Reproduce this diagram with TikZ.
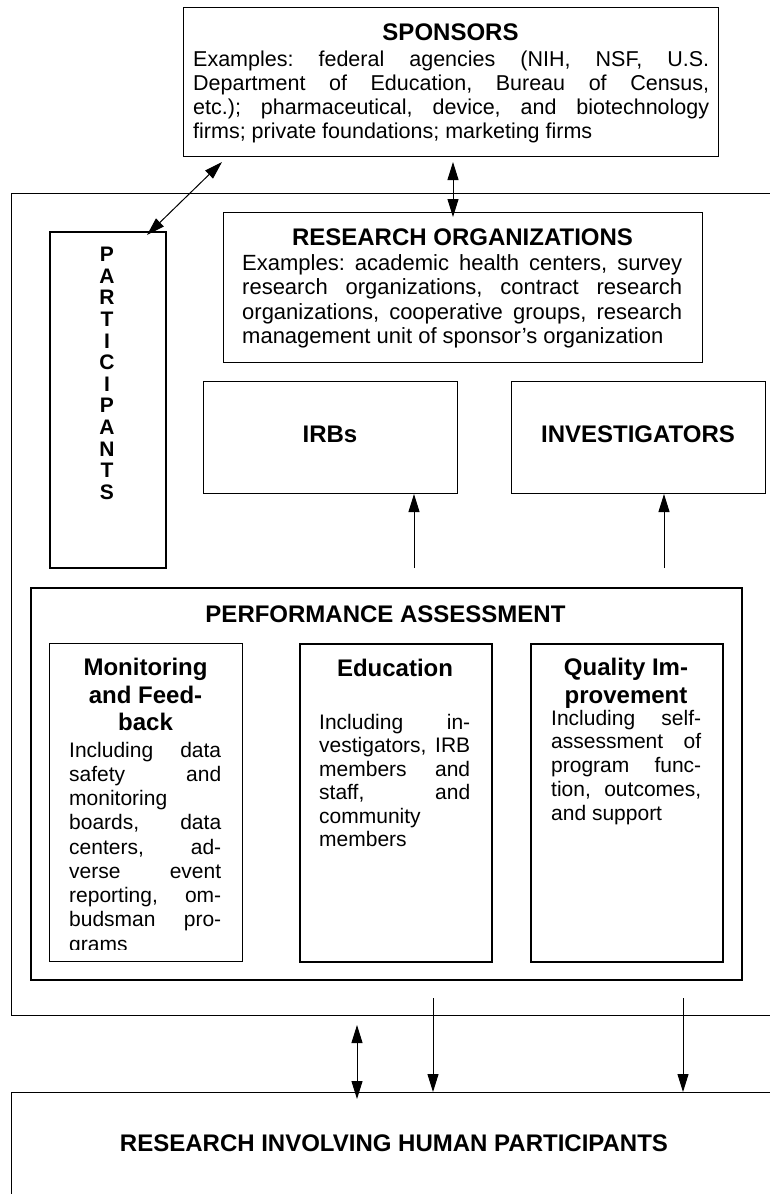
\documentclass[tikz,border=0pt]{standalone}
\usepackage{fontspec}
\setmainfont{Liberation Sans}
\usetikzlibrary{arrows.meta}
\frenchspacing
\newcommand\jtext[5]{\node[anchor=base west,inner sep=0] (#1) at (#2,#3) {\makebox[#4pt][s]{#5}};}
\newcommand\ltext[4]{\node[anchor=base west,inner sep=0] (#1) at (#2,#3) {#4};}
\newcommand\ctext[4]{\node[anchor=base,inner sep=0] (#1) at (#2,#3) {#4};}
\tikzset{
  box/.style={draw, line width=1pt, inner sep=0, anchor=north west},
  arr/.style={line width=1pt, -{Triangle[length=18pt,width=11pt]}},
  dbl/.style={line width=1pt, {Triangle[length=18pt,width=11pt]}-{Triangle[length=18pt,width=11pt]}},
  head/.style={font=\fontsize{24}{27.5}\selectfont\bfseries},
  bodyA/.style={font=\fontsize{21.5}{24}\selectfont},
  bodyB/.style={font=\fontsize{22}{24.5}\selectfont},
  bodyC/.style={font=\fontsize{21}{24}\selectfont},
}
\begin{document}
\begin{tikzpicture}[x=1pt,y=-1pt]
\clip (0,0) rectangle (770,1194);
\fill[white] (0,0) rectangle (770,1194);

% boxes
\node[box, minimum width=535pt, minimum height=149pt] (sponsors) at (183,7) {};
\node[box, minimum width=800pt, minimum height=822pt] (region) at (11,193) {};
\node[box, line width=1.8pt, minimum width=116pt, minimum height=336pt] (participants) at (49,231) {};
\node[box, minimum width=479pt, minimum height=150pt] (resorg) at (223,212) {};
\node[box, minimum width=254pt, minimum height=112pt] (irbs) at (203,381) {};
\node[box, minimum width=254pt, minimum height=112pt] (inv) at (511,381) {};
\node[box, line width=2pt, minimum width=711pt, minimum height=392pt] (perf) at (30,587) {};
\node[box, minimum width=193pt, minimum height=318pt] (monit) at (49,643) {};
\node[box, line width=1.6pt, minimum width=192pt, minimum height=318pt] (educ) at (299,643) {};
\node[box, line width=1.6pt, minimum width=192pt, minimum height=318pt] (qual) at (530,643) {};
\node[box, minimum width=800pt, minimum height=140pt] (human) at (11,1092) {};

% sponsors text
\begin{scope}[every node/.append style={bodyA}]
\node[head, anchor=base, inner sep=0] (sptitle) at (450.5,40.5) {SPONSORS};
\jtext{sp1}{193}{66}{516}{Examples: federal agencies (NIH, NSF, U.S.}
\jtext{sp2}{193}{90}{516}{Department of Education, Bureau of Census,}
\jtext{sp3}{193}{114}{516}{etc.); pharmaceutical, device, and biotechnology}
\ltext{sp4}{193}{138}{firms; private foundations; marketing firms}
\end{scope}

% research organizations text
\begin{scope}[every node/.append style={bodyB}]
\node[head, anchor=base, inner sep=0] (rotitle) at (462.5,245.5) {RESEARCH ORGANIZATIONS};
\jtext{ro1}{242}{270}{440}{Examples: academic health centers, survey}
\jtext{ro2}{242}{294.5}{440}{research organizations, contract research}
\jtext{ro3}{242}{319}{440}{organizations, cooperative groups, research}
\ltext{ro4}{242}{343.5}{management unit of sponsor’s organization}
\end{scope}

% participants
\foreach \l [count=\i] in {P,A,R,T,I,C,I,P,A,N,T,S}
  \node[anchor=base, inner sep=0, font=\fontsize{21}{21}\selectfont\bfseries] (pl\i) at (107,{261.6+(\i-1)*21.6}) {\l};

% IRBs and investigators
\node[head, anchor=base, inner sep=0] (irbt) at (330,442) {IRBs};
\node[head, anchor=base, inner sep=0] (invt) at (638,442) {INVESTIGATORS};

% performance assessment
\node[head, anchor=base, inner sep=0] (perft) at (385.5,622.5) {PERFORMANCE ASSESSMENT};

% monitoring column
\node[head, anchor=base, inner sep=0] (mh1) at (145.5,675.5) {Monitoring};
\node[head, anchor=base, inner sep=0] (mh2) at (145.5,703) {and Feed-};
\node[head, anchor=base, inner sep=0] (mh3) at (145.5,730.5) {back};
\begin{scope}[every node/.append style={bodyC}]
\clip (49,643) rectangle (242,949);
\jtext{m1}{69}{757}{152}{Including data}
\jtext{m2}{69}{781.25}{152}{safety and}
\ltext{m3}{69}{805.5}{monitoring}
\jtext{m4}{69}{829.75}{152}{boards, data}
\jtext{m5}{69}{854}{152}{centers, ad-}
\jtext{m6}{69}{878.25}{152}{verse event}
\jtext{m7}{69}{902.5}{152}{reporting, om-}
\jtext{m8}{69}{926.75}{152}{budsman pro-}
\ltext{m9}{69}{951}{grams}
\end{scope}

% education column
\node[head, anchor=base, inner sep=0] (eh1) at (395,676.5) {Education};
\begin{scope}[every node/.append style={bodyC}]
\jtext{e1}{319}{729}{151}{Including in-}
\jtext{e2}{319}{752.5}{151}{vestigators, IRB}
\jtext{e3}{319}{776}{151}{members and}
\jtext{e4}{319}{799.5}{151}{staff, and}
\ltext{e5}{319}{823}{community}
\ltext{e6}{319}{846.5}{members}
\end{scope}

% quality column
\node[head, anchor=base, inner sep=0] (qh1) at (626,675.5) {Quality Im-};
\node[head, anchor=base, inner sep=0] (qh2) at (626,703) {provement};
\begin{scope}[every node/.append style={bodyC}]
\jtext{q1}{551}{725}{150}{Including self-}
\jtext{q2}{551}{748.75}{150}{assessment of}
\jtext{q3}{551}{772.5}{150}{program func-}
\jtext{q4}{551}{796.25}{150}{tion, outcomes,}
\ltext{q5}{551}{820}{and support}
\end{scope}

% bottom label
\node[head, anchor=base, inner sep=0] (humant) at (394,1151.5) {RESEARCH INVOLVING HUMAN PARTICIPANTS};

% connectors
\coordinate (d1) at (222,162);
\coordinate (d2) at (147,235);
\draw[dbl] (d1) -- (d2);
\coordinate (v1) at (453,162);
\coordinate (v2) at (453,217);
\draw[dbl] (v1) -- (v2);
\coordinate (u1) at (414,568);
\coordinate (u2) at (664,568);
\draw[arr] (u1) -- (u1 |- irbs.south);
\draw[arr] (u2) -- (u2 |- inv.south);
\coordinate (b1) at (357,1025);
\coordinate (b1e) at (357,1099);
\draw[dbl] (b1) -- (b1e);
\coordinate (b2) at (433,998);
\coordinate (b3) at (683,998);
\draw[arr] (b2) -- (b2 |- human.north);
\draw[arr] (b3) -- (b3 |- human.north);
\end{tikzpicture}
\end{document}
